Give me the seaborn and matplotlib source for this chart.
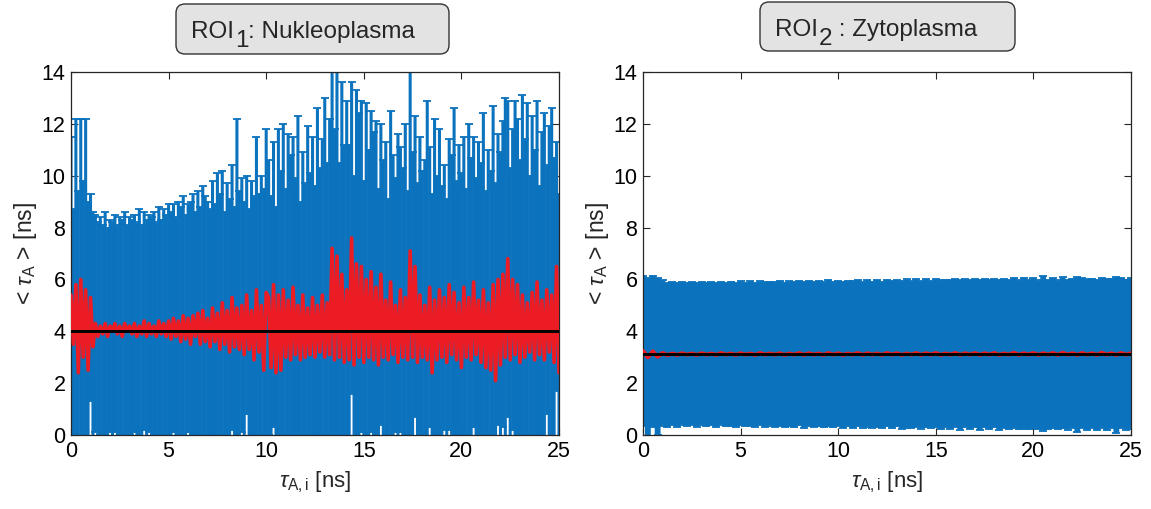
import numpy as np
import pandas as pd
import matplotlib
matplotlib.use("Agg")
import matplotlib.pyplot as plt
from matplotlib.patches import FancyBboxPatch
from matplotlib.text import Annotation
from matplotlib.transforms import IdentityTransform
import seaborn as sns

# ---------------------------------------------------------------------------
# ROI 1 (nucleoplasm): mean lifetime <tau_A> per tau_A,i sample and the upper
# end of its error bar (symmetric bars, so the spread is upper - mean).
# ---------------------------------------------------------------------------
nuc_mean = [
    5.4, 3.5, 5.8, 2.4, 6.0, 3.0, 5.6, 2.5, 5.3, 3.4,
    4.3, 3.8, 4.2, 3.9, 4.3, 3.8, 4.2, 4.0, 4.3, 3.9, 4.2, 3.8, 4.3, 4.0, 4.2,
    3.9, 4.3, 3.8, 4.2, 3.9, 4.4, 3.8, 4.3, 3.9, 4.2, 3.8, 4.4, 3.9, 4.3, 3.8, 4.4,
    3.7, 4.5, 3.8, 4.4, 3.6, 4.6, 3.7, 4.5, 3.5, 4.6, 3.8, 4.7, 3.5, 4.8, 3.6,
    4.5, 3.4, 4.9, 3.6, 4.7, 3.3, 5.1, 3.5, 4.8, 3.2, 5.3, 3.4, 4.9, 3.3, 5.0,
    3.1, 5.4, 3.3, 4.8, 2.9, 5.6, 3.2, 5.0, 2.5, 5.5,
    5.3, 2.6, 5.8, 2.4, 5.4, 2.5, 5.6, 3.0, 5.2, 2.9, 5.7, 3.1, 5.0, 2.9, 5.4, 3.0,
    4.9, 3.1, 5.3, 3.0, 5.0, 3.2, 5.4, 3.0, 5.1, 3.1, 7.2, 2.9, 6.9, 3.0, 6.2, 2.8,
    5.6, 2.9, 7.6, 2.7, 6.6, 3.0, 6.5, 2.8, 6.0, 3.0, 6.3, 2.9, 5.7, 2.7, 6.2, 3.0,
    5.2, 2.9, 5.9, 3.1, 5.0, 2.8, 5.6, 3.0, 5.3, 2.9, 7.1, 3.0, 6.5, 2.8, 5.4, 3.0,
    5.0, 2.9, 5.7, 2.4, 5.2, 2.9, 5.6, 3.0, 5.3, 2.8, 5.8, 3.1, 5.5, 2.9, 5.1, 2.6,
    5.7, 3.0, 5.3, 2.9, 5.9, 3.1, 5.2, 2.8, 5.6, 2.6, 5.1, 2.5, 5.8, 2.1, 6.0, 2.7,
    6.2, 3.0, 6.8, 2.9, 6.0, 3.1, 5.8, 2.8, 5.4, 3.0, 5.1, 3.2, 5.5, 2.9, 5.9, 3.1,
    5.2, 2.9, 5.6, 3.2, 5.4, 2.8, 6.5, 2.4,
]
nuc_upper = [
    11.5, 8.7, 12.2, 9.4, 12.2, 9.8, 12.2, 9.0, 9.3, 8.6,
    8.5, 8.2, 8.4, 8.1, 8.6, 8.0, 8.3, 8.2, 8.5, 8.1, 8.4, 8.3, 8.6, 8.1, 8.4,
    8.3, 8.5, 8.2, 8.7, 8.1, 8.6, 8.3, 8.5, 8.4, 8.6, 8.2, 8.8, 8.3, 8.7, 8.5, 8.9,
    8.6, 8.9, 8.4, 9.0, 8.8, 9.2, 8.5, 8.9, 9.0, 9.3, 8.6, 9.4, 8.8, 9.6, 9.2,
    9.0, 8.7, 9.8, 8.9, 10.1, 9.3, 10.2, 8.6, 9.7, 9.1, 10.4, 8.8, 12.2, 9.4, 9.9,
    9.0, 10.0, 8.7, 9.8, 9.2, 11.5, 9.3, 10.0, 9.5, 11.8,
    10.6, 9.2, 11.3, 8.8, 11.8, 10.2, 12.0, 9.5, 11.6, 10.8, 11.5, 9.9,
    12.3, 9.0, 10.9, 9.7, 11.9, 10.1, 11.5, 9.6, 12.6, 10.3, 11.4, 13.0,
    10.5, 12.2, 15.0, 11.8, 15.0, 10.5, 13.6, 11.2, 12.9, 11.2, 13.6, 10.0,
    13.3, 12.4, 12.9, 9.8, 12.8, 11.0, 12.5, 11.7, 12.1, 9.5, 12.0, 10.6,
    11.3, 9.1, 12.5, 10.8, 9.9, 11.6, 11.1, 10.3, 12.0, 9.4, 14.8, 10.9,
    12.3, 9.7, 11.5, 10.2, 10.6, 12.9, 11.1, 9.3, 12.2, 10.0, 11.8, 9.6,
    10.4, 9.1, 11.4, 10.8, 12.6, 9.8, 11.2, 10.1, 11.5, 9.5, 12.0, 10.7,
    11.5, 9.9, 11.3, 10.5, 12.4, 9.4, 11.0, 10.2, 12.7, 9.7, 11.6, 10.9,
    12.1, 13.0, 12.9, 10.3, 11.8, 12.9, 12.2, 10.6, 13.1, 11.4, 12.8, 10.0,
    12.3, 11.0, 12.9, 9.6, 11.7, 12.4, 10.4, 11.9, 12.6, 10.7, 11.3, 9.3,
]
nuc_overall = 4.02

# ---------------------------------------------------------------------------
# ROI 2 (cytoplasm): mean lifetime and half-width of its error bar
# ---------------------------------------------------------------------------
cyto_mean = [
    3.24, 3.00, 3.22, 3.02, 3.16, 3.08, 3.14, 3.09, 3.15, 3.10,
    3.14, 3.09, 3.15, 3.10, 3.14, 3.09, 3.16, 3.10, 3.14, 3.09,
    3.15, 3.10, 3.14, 3.09, 3.16, 3.10, 3.14, 3.10, 3.15, 3.09,
    3.14, 3.10, 3.16, 3.09, 3.15, 3.10, 3.14, 3.09, 3.16, 3.10,
    3.15, 3.09, 3.14, 3.10, 3.16, 3.09, 3.15, 3.10, 3.14, 3.09,
    3.16, 3.10, 3.15, 3.09, 3.14, 3.10, 3.16, 3.09, 3.15, 3.10,
    3.16, 3.09, 3.14, 3.10, 3.16, 3.09, 3.15, 3.10, 3.16, 3.09,
    3.15, 3.10, 3.16, 3.09, 3.14, 3.10, 3.17, 3.09, 3.15, 3.10,
    3.16, 3.09, 3.15, 3.10, 3.16, 3.09, 3.17, 3.10, 3.15, 3.09,
    3.16, 3.10, 3.15, 3.09, 3.17, 3.10, 3.15, 3.09, 3.16, 3.10, 3.15,
]
cyto_err = [
    2.90, 3.05, 2.92, 3.02, 2.80, 2.78, 2.76, 2.77, 2.75, 2.76,
    2.76, 2.77, 2.75, 2.77, 2.76, 2.78, 2.76, 2.77, 2.78, 2.77,
    2.78, 2.77, 2.79, 2.78, 2.77, 2.79, 2.78, 2.79, 2.80, 2.79,
    2.79, 2.80, 2.79, 2.81, 2.80, 2.79, 2.81, 2.80, 2.82, 2.81,
    2.80, 2.82, 2.81, 2.83, 2.82, 2.81, 2.83, 2.82, 2.84, 2.82,
    2.83, 2.84, 2.82, 2.84, 2.86, 2.83, 2.85, 2.84, 2.86, 2.84,
    2.85, 2.87, 2.84, 2.86, 2.85, 2.88, 2.85, 2.87, 2.86, 2.90,
    2.86, 2.88, 2.86, 2.89, 2.86, 2.88, 2.89, 2.87, 2.92, 2.88,
    2.88, 2.87, 2.98, 2.88, 2.89, 2.87, 2.91, 2.89, 2.88, 2.99,
    2.89, 2.90, 2.88, 2.90, 2.89, 2.92, 2.88, 3.00, 2.90, 2.89, 2.91,
]
cyto_overall = 3.11

title_parts = [("ROI", "1", ": Nukleoplasma"), ("ROI", "2", " : Zytoplasma")]
x_label = r"$\tau_{\mathrm{A,i}}$ [ns]"
y_label = r"< $\tau_{\mathrm{A}}$ > [ns]"
x_ticks = [0, 5, 10, 15, 20, 25]
y_ticks = [0, 2, 4, 6, 8, 10, 12, 14]

BLUE = "#0b72bd"
RED = "#ec1c24"

sns.set_theme(style="ticks")
plt.rcParams["font.family"] = ["Liberation Sans", "DejaVu Sans"]
plt.rcParams["mathtext.fontset"] = "custom"
plt.rcParams["mathtext.rm"] = "Liberation Sans"
plt.rcParams["mathtext.it"] = "Liberation Sans:italic"
plt.rcParams["mathtext.cal"] = "Liberation Sans"

W, H = 1151, 509
fig = plt.figure(figsize=(W / 100, H / 100), dpi=100)
ax1 = fig.add_axes([71 / W, 1 - 435 / H, 488 / W, 363 / H])
ax2 = fig.add_axes([643 / W, 1 - 435 / H, 488 / W, 363 / H])


def draw_panel(ax, tau, mean, err, overall, bar_lw, cap_size, red_lw):
    bars = ax.errorbar(tau, mean, yerr=err, fmt="none", ecolor=BLUE,
                       elinewidth=bar_lw, capsize=cap_size, capthick=1.3,
                       zorder=2)
    for coll in bars.lines[2]:
        coll.set_snap(False)
    df = pd.DataFrame({"tau": tau, "mean": mean})
    sns.lineplot(data=df, x="tau", y="mean", ax=ax, color=RED,
                 linewidth=red_lw, sort=False, zorder=3)
    ax.axhline(overall, color="black", linewidth=2.1, zorder=4)
    ax.set_xlim(0, 25)
    ax.set_ylim(0, 14)
    ax.set_xticks(x_ticks)
    ax.set_yticks(y_ticks)
    ax.tick_params(direction="in", top=True, right=True, labelsize=15.5,
                   length=5, width=0.8, colors="#262626", labelcolor="black",
                   pad=4)
    for s in ax.spines.values():
        s.set_visible(True)
        s.set_color("#262626")
        s.set_linewidth(0.9)
    ax.set_xlabel(x_label, fontsize=16, labelpad=6)
    ax.set_ylabel(y_label, fontsize=16.5, labelpad=2)


nuc_m = np.asarray(nuc_mean, dtype=float)
nuc_e = np.asarray(nuc_upper, dtype=float) - nuc_m
draw_panel(ax1, np.linspace(0, 25, len(nuc_m)), nuc_m, nuc_e, nuc_overall,
           bar_lw=2.2, cap_size=2.8, red_lw=2.6)

cyto_m = np.asarray(cyto_mean, dtype=float)
cyto_e = np.asarray(cyto_err, dtype=float)
draw_panel(ax2, np.linspace(0, 25, len(cyto_m)), cyto_m, cyto_e, cyto_overall,
           bar_lw=4.2, cap_size=3.0, red_lw=3.0)

# Panel headings in rounded grey boxes (pixel geometry of the boxes)
boxes = [(176, H - 54, 273, 50), (760, H - 51, 255, 49)]
text_start = [(191, H - 38), (775, H - 36)]
for (bx, by, bw, bh), (tx, ty), (main, sub, rest) in zip(boxes, text_start, title_parts):
    fig.add_artist(FancyBboxPatch((bx, by), bw, bh,
                                  boxstyle="round,pad=0,rounding_size=9",
                                  transform=IdentityTransform(),
                                  fc="#e3e3e3", ec="#333333", lw=1.0))
    t_main = fig.text(tx / W, ty / H, main, fontsize=17.5, ha="left",
                      va="baseline")
    t_sub = fig.add_artist(
        Annotation(sub, xy=(1, 0), xycoords=t_main, xytext=(0.5, -6.5),
                   textcoords="offset points", fontsize=17.5,
                   ha="left", va="bottom"))
    fig.add_artist(
        Annotation(rest, xy=(1, 0), xycoords=(t_sub, t_main), xytext=(0, 0),
                   textcoords="offset points", fontsize=17.5,
                   ha="left", va="bottom"))

fig.savefig("out.png", dpi=100)
